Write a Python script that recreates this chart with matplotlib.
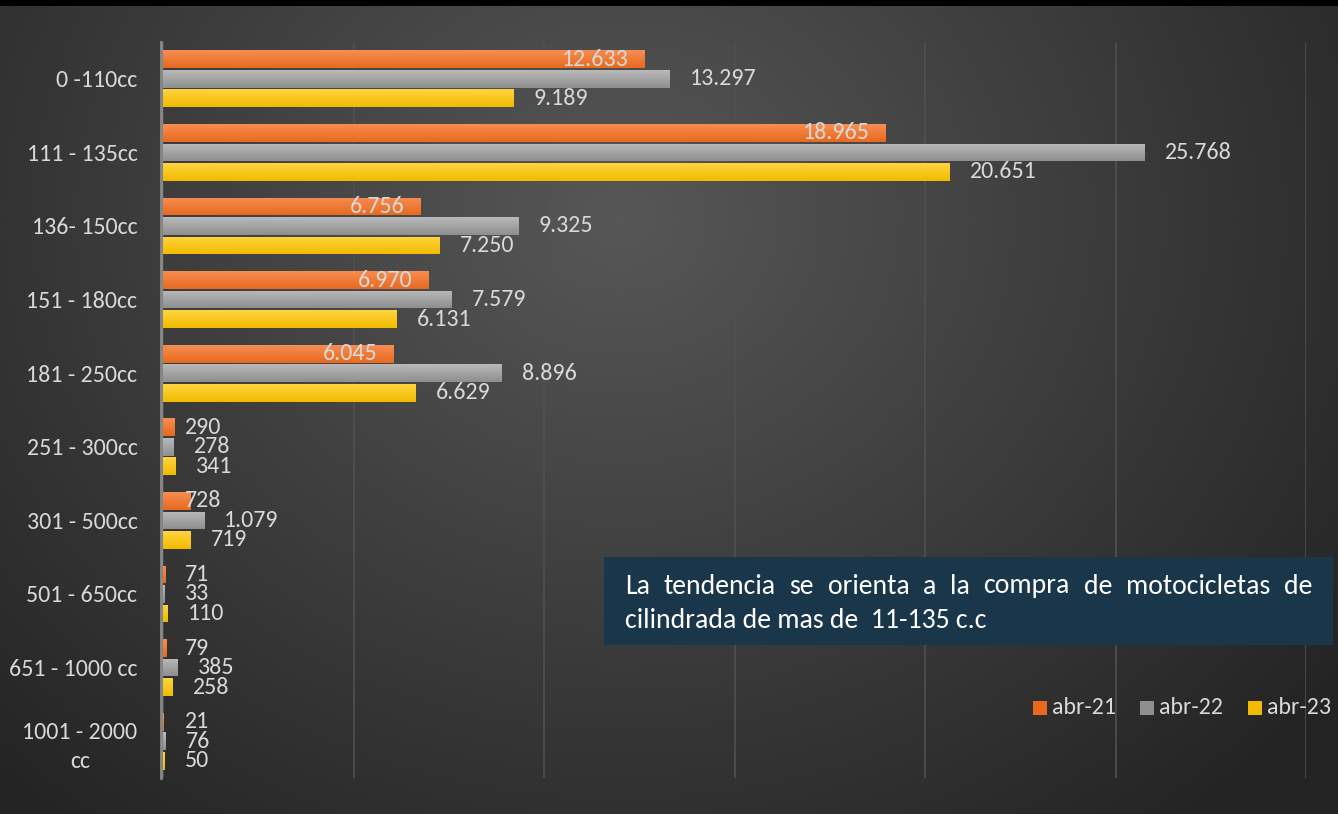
import numpy as np
from matplotlib import pyplot as plt
from matplotlib.patches import Rectangle
from matplotlib.colors import LinearSegmentedColormap

categories = ["0 -110cc", "111 - 135cc", "136- 150cc", "151 - 180cc", "181 - 250cc",
              "251 - 300cc", "301 - 500cc", "501 - 650cc", "651 - 1000 cc", "1001 - 2000\ncc"]
series_names = ["abr-21", "abr-22", "abr-23"]
abr_21 = [12633, 18965, 6756, 6970, 6045, 290, 728, 71, 79, 21]
abr_22 = [13297, 25768, 9325, 7579, 8896, 278, 1079, 33, 385, 76]
abr_23 = [9189, 20651, 7250, 6131, 6629, 341, 719, 110, 258, 50]
note_line1 = "La tendencia se orienta a la compra de motocicletas de"
note_line2 = "cilindrada de mas de  11-135 c.c"

# (top colour, bottom colour) for each series
bar_colors = [("#f68d52", "#e86a1f"), ("#b9b9b9", "#8f8f8f"), ("#ffd43f", "#f2bb00")]
text_color = "#d9d9d9"
FONT = ["Carlito", "Lato", "DejaVu Sans"]
plt.rcParams["font.family"] = FONT
FS = 17.2
NOTE_FS = 20

W, H = 1338, 814
fig = plt.figure(figsize=(W / 100, H / 100), dpi=100, facecolor="black")
renderer = fig.canvas.get_renderer()

# background with a soft radial glow
bg = fig.add_axes([0, 0, 1, 1 - 6 / H])
yy, xx = np.mgrid[0:H, 0:W]
dist = np.sqrt((xx - 620) ** 2 + ((H - yy) - 600) ** 2 * 1.3)
shade = np.clip(1 - dist / 900, 0, 1)
bg_cmap = LinearSegmentedColormap.from_list("bg", ["#242424", "#575757"])
bg.imshow(shade, cmap=bg_cmap, aspect="auto", origin="upper", extent=[0, W, 0, H])
bg.set_axis_off()

ax = fig.add_axes([161 / W, 1 - 778 / H, (1306 - 161) / W, (778 - 42) / H])
ax.set_facecolor("none")

y = np.arange(len(categories))
offset = 0.265
height = 0.24
series = [abr_21, abr_22, abr_23]
for i, values in enumerate(series):
    bars = ax.barh(y + (i - 1) * offset, values, height=height, color=bar_colors[i][0],
                   zorder=3)
    grad = LinearSegmentedColormap.from_list("g%d" % i, list(bar_colors[i]))
    for bar in bars:
        x0, y0 = bar.get_x(), bar.get_y()
        w, h = bar.get_width(), bar.get_height()
        img = ax.imshow(np.linspace(0, 1, 32).reshape(-1, 1), cmap=grad, aspect="auto",
                        extent=[x0, x0 + w, y0 + h, y0], origin="upper", zorder=4)
        img.set_clip_path(bar)
    for v, yc in zip(values, y + (i - 1) * offset):
        label = f"{v:,}".replace(",", ".")
        if i == 0 and v > 2000:
            ax.annotate(label, (v, yc), xytext=(-16, 0), textcoords="offset pixels",
                        ha="right", va="center", color=text_color, fontsize=FS, zorder=5)
        elif i == 0:
            ax.annotate(label, (0, yc), xytext=(22, 0), textcoords="offset pixels",
                        ha="left", va="center", color=text_color, fontsize=FS, zorder=5)
        else:
            ax.annotate(label, (v, yc), xytext=(20, 0), textcoords="offset pixels",
                        ha="left", va="center", color=text_color, fontsize=FS, zorder=5)

ax.set_xlim(-60, 30000)
ax.set_ylim(len(categories) - 0.5, -0.5)
ax.set_xticks(np.arange(0, 30001, 5000))
ax.grid(axis="x", color="#505050", linewidth=1.2, zorder=0)
ax.tick_params(axis="x", length=0, labelbottom=False)
ax.tick_params(axis="y", length=0, pad=17, labelsize=FS, labelcolor=text_color)
ax.set_yticks(y)
ax.set_yticklabels(categories, multialignment="center", linespacing=1.45)
for s in ["top", "right", "bottom"]:
    ax.spines[s].set_visible(False)
ax.spines["left"].set_color("#8a8a8a")
ax.spines["left"].set_linewidth(2)
ax.spines["left"].set_zorder(2)

# note box, first line justified
fig.patches.append(Rectangle((604 / W, 1 - 645 / H), (1333 - 604) / W, (645 - 557) / H,
                             transform=fig.transFigure, facecolor="#19364b", edgecolor="none",
                             zorder=10))
left_px, right_px = 625, 1312
words = note_line1.split()
objs = [fig.text(0, 1 - 586 / H, wd, color="white", fontsize=NOTE_FS, va="center",
                 ha="left", zorder=11) for wd in words]
widths = [o.get_window_extent(renderer).width for o in objs]
gap = (right_px - left_px - sum(widths)) / (len(words) - 1)
xpos = left_px
for o, wdt in zip(objs, widths):
    o.set_x(xpos / W)
    xpos += wdt + gap
fig.text(left_px / W, 1 - 620 / H, note_line2, color="white", fontsize=NOTE_FS, va="center",
         ha="left", zorder=11)

# legend, placed like the original one
for name, cols, x_px in zip(series_names, bar_colors, [1033, 1140, 1248]):
    fig.patches.append(Rectangle((x_px / W, 1 - 715 / H), 14 / W, 14 / H,
                                 transform=fig.transFigure, facecolor=cols[1],
                                 edgecolor="none"))
    fig.text((x_px + 19) / W, 1 - 708 / H, name, color=text_color, fontsize=FS,
             va="center", ha="left")

fig.savefig("out.png", dpi=100, facecolor="black")
